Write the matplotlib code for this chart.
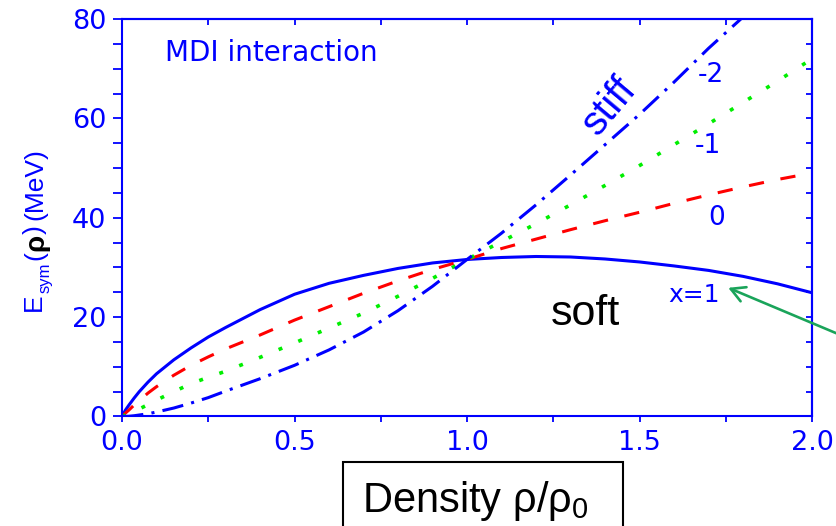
import matplotlib
matplotlib.use("Agg")
import matplotlib.pyplot as plt
from matplotlib.ticker import MultipleLocator, NullFormatter, FormatStrFormatter
from matplotlib.patches import Rectangle

plt.rcParams['font.family'] = ['DejaVu Sans']
plt.rcParams['mathtext.fontset'] = 'custom'
plt.rcParams['mathtext.rm'] = 'Liberation Sans'

# density rho/rho0 grid
density = [0.0, 0.01, 0.02, 0.035, 0.05, 0.075, 0.1, 0.15, 0.2, 0.25, 0.3, 0.4, 0.5, 0.6,
           0.7, 0.8, 0.9, 1.0, 1.1, 1.2, 1.3, 1.4, 1.5, 1.6, 1.7, 1.8, 1.9, 2.0]

# symmetry energy (MeV) for x = 1, 0, -1, -2
esym_x1 = [0.0, 1.3, 2.3, 3.7, 5.0, 6.9, 8.6, 11.4, 13.8, 16.0, 17.9, 21.5, 24.6, 26.8,
           28.4, 29.8, 30.9, 31.6, 32.0, 32.2, 32.1, 31.7, 31.1, 30.3, 29.4, 28.2, 26.7, 24.9]
esym_x0 = [0.0, 0.7, 1.3, 2.3, 3.2, 4.7, 6.0, 8.3, 10.3, 12.0, 13.6, 16.4, 19.4, 22.1,
           24.8, 27.3, 29.6, 31.6, 33.8, 35.7, 37.6, 39.4, 41.1, 42.9, 44.6, 46.2, 47.7, 49.0]
esym_xm1 = [0.0, 0.3, 0.6, 1.0, 1.5, 2.4, 3.3, 5.0, 6.6, 7.9, 9.1, 11.9, 14.8, 17.8,
            20.8, 24.2, 27.8, 31.6, 35.2, 38.8, 42.6, 46.5, 50.5, 54.7, 58.9, 63.2, 67.5, 72.0]
esym_xm2 = [0.0, 0.02, 0.05, 0.15, 0.3, 0.55, 0.9, 1.7, 2.7, 3.8, 5.1, 7.6, 10.3, 13.4,
            17.0, 21.3, 26.2, 31.6, 36.9, 42.6, 48.6, 54.7, 60.8, 67.3, 74.1, 80.4, 86.8, 93.2]

curve_labels = ["x=1", "0", "-1", "-2"]

BLUE = "#0000ff"

fig = plt.figure(figsize=(8.37, 5.26), dpi=100)
ax = fig.add_axes([0.1458, 0.2082, 0.8244, 0.7557])

ax.plot(density, esym_x1, color=BLUE, lw=2.2)
ax.plot(density, esym_x0, color="#ff0000", lw=2.2, linestyle=(0, (5, 5.5)))
ax.plot(density, esym_xm1, color="#00ee00", lw=2.6, linestyle=(0, (1.1, 4.8)))
ax.plot(density, esym_xm2, color=BLUE, lw=2.2, linestyle=(0, (7, 2.7, 1, 2.7)))

ax.set_xlim(0, 2.0)
ax.set_ylim(0, 80)
ax.xaxis.set_major_locator(MultipleLocator(0.5))
ax.xaxis.set_minor_locator(MultipleLocator(0.25))
ax.yaxis.set_major_locator(MultipleLocator(20))
ax.yaxis.set_minor_locator(MultipleLocator(5))
ax.xaxis.set_major_formatter(FormatStrFormatter("%.1f"))

for s in ax.spines.values():
    s.set_color(BLUE)
    s.set_linewidth(1.5)

ax.tick_params(axis="x", which="both", direction="out", length=4, width=1.3, color=BLUE,
               labelcolor=BLUE, labelsize=19.5, pad=6)
ax.tick_params(axis="y", which="both", direction="out", length=6.5, width=1.3, color=BLUE,
               labelcolor=BLUE, labelsize=19.5, pad=5)

# mirrored ticks pointing into the plot
top = ax.secondary_xaxis("top")
top.xaxis.set_major_locator(MultipleLocator(0.25))
top.xaxis.set_major_formatter(NullFormatter())
top.tick_params(direction="in", length=4.3, width=1.3, color=BLUE)
top.spines["top"].set_color(BLUE)
top.spines["top"].set_linewidth(1.5)
right = ax.secondary_yaxis("right")
right.yaxis.set_major_locator(MultipleLocator(5))
right.yaxis.set_major_formatter(NullFormatter())
right.tick_params(direction="in", length=4.5, width=1.3, color=BLUE)
right.spines["right"].set_color(BLUE)
right.spines["right"].set_linewidth(1.5)

# annotations
ax.text(0.432, 73.1, "MDI interaction", color=BLUE, fontsize=20, ha="center", va="center")
ax.text(1.658, 24.4, curve_labels[0], color=BLUE, fontsize=18, ha="center", va="center")
ax.text(1.722, 39.9, curve_labels[1], color=BLUE, fontsize=19, ha="center", va="center")
ax.text(1.699, 54.4, curve_labels[2], color=BLUE, fontsize=19, ha="center", va="center")
ax.text(1.707, 68.7, curve_labels[3], color=BLUE, fontsize=19, ha="center", va="center")
ax.text(1.412, 62.5, "stiff", color=BLUE, fontsize=29, family="Liberation Sans",
        rotation=50, ha="center", va="center")
ax.text(1.343, 18.4, "soft", color="black", fontsize=31, family="Liberation Sans",
        ha="center", va="baseline")

ax.annotate("", xy=(1.757, 25.9), xycoords="data",
            xytext=(850, 187), textcoords="figure pixels",
            arrowprops=dict(arrowstyle="->,head_length=1.0,head_width=0.55",
                            color="#1aa45a", lw=1.9, shrinkA=0, shrinkB=0))

# y label built from pieces (rho in black)
W, H = 837.0, 526.0
def ytext(xpx, ypx, s, size, color=BLUE, weight="normal"):
    fig.text(xpx / W, 1 - ypx / H, s, rotation=90, rotation_mode="anchor",
             ha="left", va="baseline", fontsize=size, color=color,
             family="Liberation Sans", fontweight=weight)

ytext(41, 311, "E", 19)
ytext(50, 293, "sym", 12)
ytext(42, 260, "(", 19)
ytext(43, 251, "\u03c1", 20, color="black", weight="bold")
ytext(42, 234, ")", 19)
ytext(42, 220, "(MeV)", 19)

# x label in a box
fig.text(362 / W, 1 - 512 / H, "Density \u03c1/\u03c1$_\\mathregular{0}$", fontsize=30,
         family="Liberation Sans", color="black", ha="left", va="baseline")
fig.patches.append(Rectangle((343 / W, -20 / H), 280 / W, 84 / H, transform=fig.transFigure,
                             fill=False, edgecolor="black", lw=1.5, clip_on=False))

fig.savefig("out.png", dpi=100)
